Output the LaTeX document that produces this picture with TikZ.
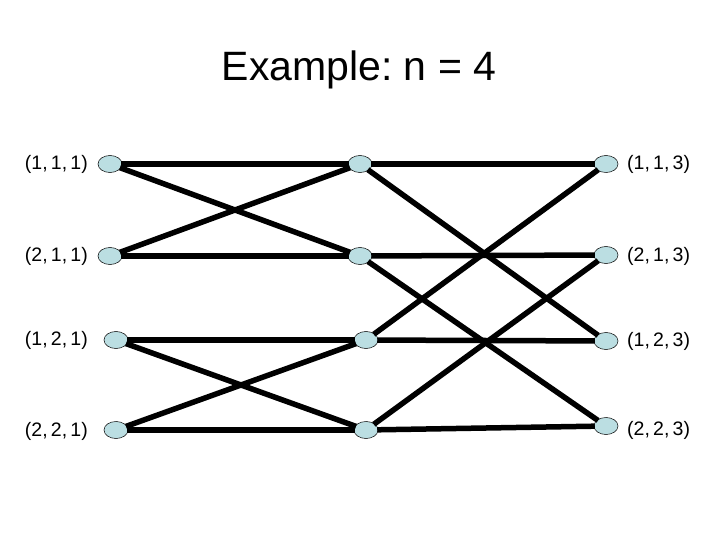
\documentclass[tikz,border=0pt]{standalone}
\usepackage{fontspec}
\setmainfont{Liberation Sans}
\usetikzlibrary{shapes.geometric}
\definecolor{nodefill}{RGB}{187,222,226}
\frenchspacing
\begin{document}
\begin{tikzpicture}[x=1bp,y=-1bp,
  vert/.style={ellipse,draw=black,line width=0.5bp,fill=nodefill,minimum width=24bp,minimum height=17bp,inner sep=0pt},
  lab/.style={font=\fontsize{19.5bp}{21bp}\selectfont,inner sep=0pt},
  edge/.style={line width=5.5bp,black,shorten <=-1bp,shorten >=-1bp}]
\useasboundingbox (0,0) rectangle (720,540);
\node[font=\fontsize{41bp}{44bp}\selectfont,inner sep=0pt] (title) at (359,70) {Example: n = 4};
% left column
\node[vert] (L1) at (110,164) {};
\node[vert] (L2) at (110,256) {};
\node[vert] (L3) at (116,340) {};
\node[vert] (L4) at (116,430) {};
% middle column
\node[vert] (M1) at (360,164) {};
\node[vert] (M2) at (360,256) {};
\node[vert] (M3) at (366,340) {};
\node[vert] (M4) at (366,430) {};
% right column
\node[vert] (R1) at (606,164) {};
\node[vert] (R2) at (606,255) {};
\node[vert] (R3) at (606,341) {};
\node[vert] (R4) at (606,426) {};
% labels
\node[lab,anchor=east] (tL1) at (88,164) {(1,\,1,\,1)};
\node[lab,anchor=east] (tL2) at (88,256) {(2,\,1,\,1)};
\node[lab,anchor=east] (tL3) at (88,340) {(1,\,2,\,1)};
\node[lab,anchor=east] (tL4) at (88,431) {(2,\,2,\,1)};
\node[lab,anchor=west] (tR1) at (627,164) {(1,\,1,\,3)};
\node[lab,anchor=west] (tR2) at (627,256) {(2,\,1,\,3)};
\node[lab,anchor=west] (tR3) at (627,341) {(1,\,2,\,3)};
\node[lab,anchor=west] (tR4) at (627,430) {(2,\,2,\,3)};
% stage 1
\draw[edge] (L1) -- (M1);
\draw[edge] (L2) -- (M2);
\draw[edge] (L1) -- (M2);
\draw[edge] (L2) -- (M1);
\draw[edge] (L3) -- (M3);
\draw[edge] (L4) -- (M4);
\draw[edge] (L3) -- (M4);
\draw[edge] (L4) -- (M3);
% stage 2
\draw[edge] (M1) -- (R1);
\draw[edge] (M2) -- (R2);
\draw[edge] (M3) -- (R3);
\draw[edge] (M4) -- (R4);
\draw[edge] (M1) -- (R3);
\draw[edge] (M3) -- (R1);
\draw[edge] (M2) -- (R4);
\draw[edge] (M4) -- (R2);
\end{tikzpicture}
\end{document}
